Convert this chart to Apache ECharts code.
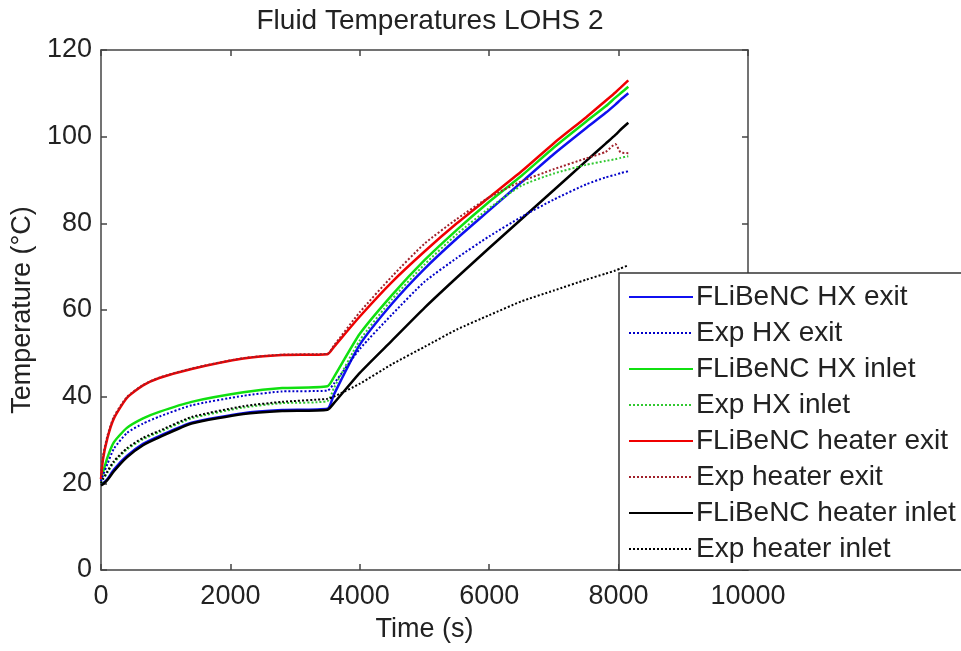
<!DOCTYPE html>
<html>
<head>
<meta charset="utf-8">
<script src="https://cdn.jsdelivr.net/npm/echarts@6/dist/echarts.min.js"></script>
<style>
  html, body { margin: 0; padding: 0; background: #fff; }
  #fluid-temps { width: 961px; height: 651px; }
</style>
</head>
<body>
<div id="fluid-temps"></div>
<script>
  // time stamps shared by every series (s)
  let times = [0, 30, 100, 200, 400, 650, 900, 1400, 2200, 2800, 3500, 3600, 4000, 4500, 5000, 5500, 6000, 6500, 7000, 7500, 7800, 7950, 8030, 8150];

  // temperatures (deg C)
  let hxExit      = [19.8, 20, 21, 23.2, 26.3, 29.1, 30.9, 34, 36.2, 36.9, 37.2, 40.5, 52, 61.5, 69.5, 76.5, 83, 89.5, 96, 102, 105.5, 107.4, 108.5, 110];
  let expHxExit   = [20.5, 21.8, 24.5, 28, 31.6, 33.8, 35.4, 38, 40.2, 41.2, 41.4, 43, 51, 59, 66.5, 72, 77, 81.5, 85.5, 89, 90.6, 91.2, 91.6, 92];
  let hxInlet     = [21, 22.5, 26, 29.5, 32.8, 35, 36.5, 38.8, 41, 42, 42.4, 44.5, 54.5, 63.5, 71.5, 78.5, 85, 91, 97.5, 103.5, 107, 109, 110, 111.5];
  let expHxInlet  = [20, 20.8, 22.5, 24.8, 27.8, 30.2, 31.8, 35, 37.5, 38.5, 39, 42, 53, 62.5, 70.5, 77.5, 83.5, 88.7, 91.5, 93.5, 94.4, 94.8, 95.1, 95.5];
  let heaterExit  = [21, 25.5, 30.5, 35, 39.7, 42.6, 44.3, 46.4, 48.8, 49.6, 49.8, 51.5, 58.5, 66.5, 73.5, 80, 86, 92, 98.5, 104.5, 108.3, 110.2, 111.3, 113];
  let expHeaterExit = [22, 26.2, 31, 35.4, 39.9, 42.7, 44.4, 46.5, 48.9, 49.7, 49.9, 51.8, 59.5, 67.8, 75.3, 81, 86, 89.7, 92.5, 95, 96.5, 98.3, 96.4, 96.2];
  let heaterInlet = [19.5, 19.8, 20.8, 22.8, 26, 28.8, 30.6, 33.8, 36, 36.7, 37, 38.5, 45.5, 53, 60.5, 67.5, 74.3, 81, 87.7, 94.4, 98.4, 100.4, 101.6, 103.2];
  let expHeaterInlet = [20, 21, 22.8, 25.1, 28.1, 30.5, 32.1, 35.3, 37.8, 38.8, 39.5, 40, 43, 47.5, 51.5, 55.5, 58.8, 62, 64.5, 67, 68.4, 69.1, 69.6, 70.3];

  let xTicks = [0, 2000, 4000, 6000, 8000, 10000];
  let yTicks = [0, 20, 40, 60, 80, 100, 120];

  let font = 'Arial, "Liberation Sans", sans-serif';

  let chart = echarts.init(document.getElementById('fluid-temps'));

  let pair = (vals) => times.map((t, i) => [t, vals[i]]);

  let mkSeries = (name, vals, color, dotted) => {
    return {
      type: 'line',
      name: name,
      data: pair(vals),
      symbol: 'none',
      showSymbol: false,
      smooth: 0.2,
      lineStyle: { color: color, width: dotted ? 2 : 2.5, type: dotted ? [2, 2] : 'solid' },
      itemStyle: { color: color },
      emphasis: { disabled: true },
      z: dotted ? 3 : 2
    };
  };

  let axisLine = { show: true, onZero: false, lineStyle: { color: '#444', width: 1.5 } };
  let axisTick = { show: true, inside: true, length: 6, lineStyle: { color: '#444', width: 1.5 } };
  let plain = (v) => String(v);

  let option = {
    animation: false,
    backgroundColor: '#fff',
    title: {
      text: 'Fluid Temperatures LOHS 2',
      left: 425,
      textAlign: 'center',
      top: 2,
      textStyle: { fontFamily: font, fontSize: 28, fontWeight: 'normal', color: '#222' }
    },
    grid: { left: 101, right: 213, top: 50, bottom: 81 },
    legend: {
      orient: 'vertical',
      left: 619,
      top: 273,
      padding: [10, 400, 7, 9],
      itemWidth: 64,
      itemHeight: 20,
      itemGap: 8,
      backgroundColor: '#fff',
      borderColor: '#333',
      borderWidth: 1.5,
      borderRadius: 0,
      selectedMode: false,
      itemStyle: { opacity: 0 },
      lineStyle: { opacity: 1 },
      textStyle: { fontFamily: font, fontSize: 28, lineHeight: 28, color: '#222', padding: [0, 0, 0, -2] }
    },
    xAxis: [
      {
        type: 'value',
        min: xTicks[0],
        max: xTicks[xTicks.length - 1],
        interval: 2000,
        name: 'Time (s)',
        nameLocation: 'middle',
        nameGap: 46,
        nameTextStyle: { fontFamily: font, fontSize: 27, color: '#222' },
        axisLine: axisLine,
        axisTick: axisTick,
        splitLine: { show: false },
        axisLabel: { fontFamily: font, fontSize: 27, color: '#222', margin: 13, formatter: plain }
      },
      {
        type: 'value',
        position: 'top',
        min: xTicks[0],
        max: xTicks[xTicks.length - 1],
        interval: 2000,
        axisLine: axisLine,
        axisTick: axisTick,
        axisLabel: { show: false },
        splitLine: { show: false }
      }
    ],
    yAxis: [
      {
        type: 'value',
        min: yTicks[0],
        max: yTicks[yTicks.length - 1],
        interval: 20,
        name: 'Temperature (\u00b0C)',
        nameLocation: 'middle',
        nameGap: 63,
        nameTextStyle: { fontFamily: font, fontSize: 27, color: '#222' },
        axisLine: axisLine,
        axisTick: axisTick,
        splitLine: { show: false },
        axisLabel: { fontFamily: font, fontSize: 27, color: '#222', margin: 9, formatter: plain }
      },
      {
        type: 'value',
        position: 'right',
        min: yTicks[0],
        max: yTicks[yTicks.length - 1],
        interval: 20,
        axisLine: axisLine,
        axisTick: axisTick,
        axisLabel: { show: false },
        splitLine: { show: false }
      }
    ],
    series: [
      mkSeries('FLiBeNC HX exit', hxExit, '#1010f0', false),
      mkSeries('Exp HX exit', expHxExit, '#0000c8', true),
      mkSeries('FLiBeNC HX inlet', hxInlet, '#10e010', false),
      mkSeries('Exp HX inlet', expHxInlet, '#30c830', true),
      mkSeries('FLiBeNC heater exit', heaterExit, '#f00000', false),
      mkSeries('Exp heater exit', expHeaterExit, '#a0202a', true),
      mkSeries('FLiBeNC heater inlet', heaterInlet, '#000000', false),
      mkSeries('Exp heater inlet', expHeaterInlet, '#000000', true)
    ]
  };

  chart.setOption(option);
</script>
</body>
</html>
